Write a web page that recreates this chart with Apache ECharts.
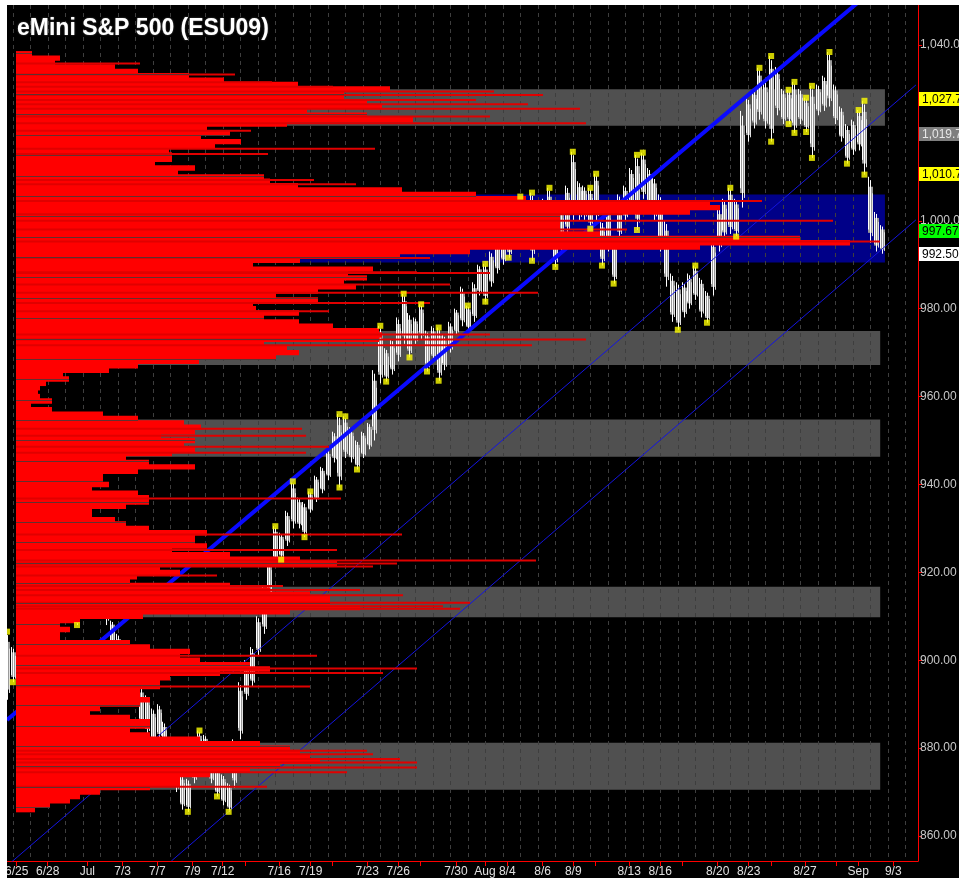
<!DOCTYPE html>
<html lang="en">
<head>
<meta charset="UTF-8">
<title>eMini S&amp;P 500 (ESU09)</title>
<script src="https://cdn.jsdelivr.net/npm/echarts@6/dist/echarts.min.js"></script>
<style>
    html, body { margin: 0; padding: 0; background: #ffffff; }
    #main { position: absolute; left: 7px; top: 5px; width: 952px; height: 873px; }
</style>
</head>
<body>
<div id="main"></div>
<script type="text/javascript">
    // x axis is in "days" from the left edge of the plot, y axis is price
    var xTickPos = [0.554, 2.326, 4.589, 6.611, 8.589, 10.589, 12.326, 13.6, 15.56, 17.354, 18.589, 20.589, 22.36, 23.64,
        25.657, 27.314, 28.589, 30.611, 32.36, 33.64, 35.56, 37.33, 38.611, 40.611, 42.383, 43.657, 45.6, 47.389, 48.646, 50.646];
    var xTickLabels = ['6/25', '6/28', 'Jul', '7/3', '7/7', '7/9', '7/12', '', '7/16', '7/19', '', '7/23', '7/26', '',
        '7/30', 'Aug', '8/4', '8/6', '8/9', '', '8/13', '8/16', '', '8/20', '8/23', '', '8/27', '', 'Sep', '9/3'];
    var yTicks = [860, 880, 900, 920, 940, 960, 980, 1000, 1020, 1040];

    // price bars, one every 1/3 day
    var barStep = 1 / 3;
    var barLow = [891, 895, 898, 908, 912, 914, 910, 912, 909, 913, 916, 912, 908, 910, 914, 916, 914, 908, 903, 898,
        894, 893, 890, 885, 883, 881, 882, 878, 873, 870, 866, 865.5, 872, 876, 877, 872, 869, 867, 865.5, 871,
        882, 891, 894, 901, 906, 913, 922, 922.9, 926, 930, 930, 928, 933.6, 936, 938, 941, 945, 939.3, 946, 945,
        943.4, 946, 948, 950, 963, 963.4, 965, 968, 972, 968.9, 972, 973, 965.7, 968, 963.6, 966, 970, 974, 976, 975,
        977, 983, 981.6, 985, 988, 990, 991.6, 995, 996, 995, 990.9, 994, 996, 994, 989.5, 993, 997, 1000, 1000, 1000.2,
        998.2, 1000, 989.8, 993, 985.7, 996, 1000, 1003, 997.9, 1005, 1003, 1000, 993, 985, 977, 975.2, 978, 980, 982, 978,
        976.8, 983, 993, 996, 997, 996.4, 1003, 1018, 1021, 1023, 1021, 1018, 1024, 1022, 1022, 1020, 1022, 1020.2, 1014.3, 1024,
        1025, 1026, 1022, 1018, 1013, 1015, 1016, 1010.5, 995, 993, 992.5];
    var barHigh = [906.5, 903, 910, 918, 920, 921, 918, 920, 917, 922, 923, 920, 916, 918, 922, 923, 921, 918, 909, 906,
        901, 899, 896, 894, 892, 889, 890, 886, 882, 878, 874, 873, 880, 884, 883, 879, 876, 874, 872, 882,
        895, 900, 903, 910, 917, 923, 930.5, 929, 934, 940.7, 937, 936, 938.4, 942, 944, 948, 952, 956, 955.5, 953,
        950, 952, 954, 966, 976.1, 971, 973, 978, 983.4, 979, 978, 981, 975, 976, 975.7, 974, 977, 980, 985, 980.7,
        986, 990, 990.2, 993, 996, 998, 1000, 1003, 1005.5, 1004, 1006.4, 1003, 1005, 1007.5, 1000, 1003, 1008, 1015.7, 1009, 1008,
        1007.5, 1010.7, 1000, 1003, 996, 1006, 1008, 1012, 1015, 1015.5, 1012, 1010, 1006, 1000, 988, 986, 986, 988, 989.8, 987,
        984, 996, 1003, 1005, 1007.5, 1005, 1025, 1028, 1030, 1034.8, 1032, 1037.5, 1035, 1030, 1029.8, 1031.6, 1030, 1028, 1030.7, 1031,
        1033, 1038.4, 1031, 1026, 1022, 1023, 1025.2, 1027.3, 1010, 1002, 999];
    var pivotHighs = [0, 33, 46, 49, 52, 57, 58, 64, 68, 71, 74, 79, 82, 88, 90, 93, 97, 100, 101, 108, 109, 118, 124,
        129, 131, 134, 135, 137, 138, 141, 146, 147];
    var pivotLows = [1, 12, 31, 36, 38, 47, 51, 57, 60, 65, 69, 72, 74, 82, 86, 90, 94, 100, 102, 104, 108, 115, 120,
        125, 131, 134, 135, 137, 138, 144, 147];

    // volume profile, one level per point from profileTop downwards (length in profile units)
    var profileTop = 1038;
    var profile = [16, 44, 39, 99, 122, 173, 208, 282, 374, 328,          // 1038-1029
        328, 351, 366, 291, 351, 397, 271, 191, 214, 185,                 // 1028-1019
        225, 199, 153, 156, 156, 139, 179, 162, 248, 254,                 // 1018-1009
        282, 386, 460, 510, 694, 704, 674, 544, 544, 544,                 // 1008-999
        544, 584, 784, 834, 684, 454, 384, 284, 237, 357,                 // 998-989
        332, 351, 328, 340, 302, 260, 302, 237, 240, 283,                 // 988-979
        248, 283, 317, 363, 366, 363, 248, 271, 283, 260,                 // 978-969
        183, 122, 93, 47, 53, 30, 24, 22, 24, 36,                         // 968-959
        15, 36, 87, 122, 168, 185, 179, 145, 179, 168,                    // 958-949
        179, 156, 110, 133, 179, 122, 87, 87, 93, 76,                     // 948-939
        122, 133, 133, 110, 76, 76, 99, 110, 133, 191,                    // 938-929
        179, 179, 191, 156, 214, 284, 321, 144, 164, 121,                 // 928-919
        114, 214, 254, 294, 314, 314, 344, 274, 127, 64,                  // 918-909
        44, 54, 44, 44, 114, 134, 174, 164, 184, 234,                     // 908-899
        254, 204, 154, 144, 144, 124, 124, 134, 124, 84,                  // 898-889
        74, 114, 134, 134, 114, 134, 184, 244, 274, 284,                  // 888-879
        294, 304, 264, 234, 194, 164, 164, 134, 84, 64,                   // 878-869
        54, 34, 19];                                                      // 868-866
    var tailPrice = [1035.8, 1033.3, 1031.5, 1030.5, 1029.4, 1028.6, 1027.5, 1026.5, 1025.5, 1023.7, 1022.2, 1020.5,
        1016.4, 1015.2, 1009.3, 1008.3, 1004.5, 1001.5, 1000, 998, 995.3, 991.5, 988.3, 988.1, 985.5, 983.6, 981.3,
        979.4, 974.1, 973, 971.7, 952.7, 951.1, 948.6, 947.2, 936.8, 928.6, 925.1, 922.7, 922, 921.3, 919.3, 916.9,
        916, 914.8, 913.1, 912.3, 911.7, 901, 898.1, 897.1, 894, 879.4, 878.6, 877.5, 876.7, 875.6, 874.5, 871.2];
    var tailLen = [124, 219, 256, 317, 478, 527, 460, 512, 564, 474, 570, 235,
        359, 252, 298, 340, 746, 607, 817, 611, 864, 414, 401, 474, 434, 522, 414,
        313, 474, 570, 516, 286, 290, 313, 290, 325, 386, 321, 520, 381, 357, 201, 267,
        344, 387, 454, 427, 444, 301, 401, 367, 294, 351, 357, 384, 401, 401, 331, 251];
    var profileGridTop = 1038.1;   // dark separators across the profile
    var profileGridStep = 4.636;

    // zones: [low, high, left start (days), right end (days)]
    var grayZones = [[1021.6, 1029.9, 0.514, 50.17], [967.2, 974.9, 0.514, 49.9], [946.3, 954.8, 0.514, 49.9],
        [909.8, 916.7, 0.514, 49.9], [870.5, 881.2, 0.514, 49.9]];
    var blueZone = [990.5, 1006.0, 0.514, 50.17];

    // trend lines: [[x0, y0], [x1, y1]]
    var channelMain = [[0, 886.4], [52, 1061]];
    var channelLow1 = [[0, 853.2], [51.94, 1030.9]];
    var channelLow2 = [[9.39, 854.3], [51.94, 1000.2]];

    // highlighted price labels on the axis
    var markPrices = [1027.75, 1019.75, 1010.75, 997.67, 992.50];
    var markColors = ['#ffff00', '#7f7f7f', '#ffff00', '#00ff00', '#ffffff'];
    var markTextColors = ['#000000', '#e8e8e8', '#000000', '#000000', '#000000'];

    var yMin = 854.31, yMax = 1049.1, xMax = 52.06;

    function fmt(v) {
        var parts = v.toFixed(2).split('.');
        parts[0] = parts[0].replace(/\B(?=(\d{3})+(?!\d))/g, ',');
        return parts.join('.');
    }

    var dayLines = [];
    for (var d = 0; d < 52; d++) dayLines.push(0.326 + d);

    var barData = [];
    for (var i = 0; i < barLow.length; i++) barData.push([i * barStep, barLow[i], barHigh[i]]);

    var dots = [];
    pivotHighs.forEach(function (k) { dots.push([k * barStep, barHigh[k]]); });
    pivotLows.forEach(function (k) { dots.push([k * barStep, barLow[k]]); });

    var profileData = [];
    for (var j = 0; j < profile.length; j++) profileData.push([profile[j], profileTop - j]);
    var tailData = [];
    for (var t = 0; t < tailPrice.length; t++) tailData.push([tailLen[t], tailPrice[t]]);
    var gapData = [];
    for (var g = profileGridTop; g > 865; g -= profileGridStep) {
        var idx = Math.round(profileTop - g);
        if (idx >= 0 && idx < profile.length) gapData.push([profile[idx], g]);
    }

    var zoneData = grayZones.map(function (z) { return [z[0], z[1], z[2], z[3], 0]; });
    zoneData.unshift([blueZone[0], blueZone[1], blueZone[2], blueZone[3], 1]);

    // price tags on the axis
    var tagData = markPrices.map(function (p, n) { return [xMax, p, n]; });

    var myChart = echarts.init(document.getElementById('main'));
    myChart.setOption({
        backgroundColor: '#000000',
        animation: false,
        graphic: [{
            type: 'text', left: 10, top: 12, z: 100,
            style: {
                text: 'eMini S&P 500 (ESU09)', fill: '#ffffff',
                font: 'bold 23px "Liberation Sans", Arial, sans-serif',
                textShadowColor: '#555', textShadowBlur: 2
            }
        }],
        grid: {left: 0, right: 41, top: 0, bottom: 17, containLabel: false, outerBoundsMode: 'none'},
        xAxis: [{
            type: 'value', min: 0, max: xMax,
            axisLine: {onZero: false, lineStyle: {color: '#ff0000', width: 1}},
            axisTick: {show: true, length: 5, lineStyle: {color: '#ff0000'}, customValues: xTickPos},
            axisLabel: {
                customValues: xTickPos.filter(function (v, n) { return xTickLabels[n] !== ''; }),
                formatter: function (v) {
                    var best = 0;
                    for (var n = 0; n < xTickPos.length; n++) {
                        if (Math.abs(xTickPos[n] - v) < Math.abs(xTickPos[best] - v)) best = n;
                    }
                    return xTickLabels[best];
                },
                color: '#e0e0e0', fontSize: 12, fontFamily: '"Liberation Sans", Arial, sans-serif', margin: 5,
                hideOverlap: false
            },
            splitLine: {show: false}
        }, {
            type: 'value', min: -9, max: 902, show: false
        }],
        yAxis: {
            type: 'value', position: 'right', min: yMin, max: yMax,
            axisLine: {show: true, onZero: false, lineStyle: {color: '#ff0000', width: 1}},
            axisTick: {show: true, length: 4, lineStyle: {color: '#ff0000'}, customValues: yTicks},
            axisLabel: {
                customValues: yTicks, formatter: function (v) { return fmt(v); },
                color: '#c8c8c8', fontSize: 12, fontFamily: '"Liberation Sans", Arial, sans-serif', margin: 2
            },
            splitLine: {show: false}
        },
        series: [
            {
                // gray and blue zones
                type: 'custom', z: 1, silent: true, data: zoneData,
                renderItem: function (params, api) {
                    var a = api.coord([api.value(2), api.value(1)]);
                    var b = api.coord([api.value(3), api.value(0)]);
                    return {
                        type: 'rect',
                        shape: {x: a[0], y: a[1], width: b[0] - a[0], height: b[1] - a[1]},
                        style: {fill: api.value(4) === 1 ? '#000088' : '#505050'}
                    };
                }
            },
            {
                // day separators
                type: 'custom', z: 2, silent: true, data: dayLines.map(function (v) { return [v]; }),
                renderItem: function (params, api) {
                    var a = api.coord([api.value(0), yMax]);
                    var b = api.coord([api.value(0), yMin]);
                    return {
                        type: 'line',
                        shape: {x1: Math.round(a[0]) + 0.5, y1: a[1], x2: Math.round(a[0]) + 0.5, y2: b[1]},
                        style: {stroke: '#3e3e3e', lineWidth: 1, lineDash: [4, 4]}
                    };
                }
            },
            {
                // price bars
                type: 'custom', z: 3, silent: true, data: barData,
                renderItem: function (params, api) {
                    var lo = api.coord([api.value(0), api.value(1)]);
                    var hi = api.coord([api.value(0), api.value(2)]);
                    var x = Math.round(lo[0]);
                    var h = lo[1] - hi[1];
                    return {
                        type: 'group',
                        children: [{
                            type: 'rect',
                            shape: {x: x - 2, y: hi[1] + h * 0.15, width: 5, height: h * 0.7},
                            style: {fill: '#9a9a9a'}
                        }, {
                            type: 'line',
                            shape: {x1: x - 1.5, y1: hi[1], x2: x - 1.5, y2: lo[1] - h * 0.2},
                            style: {stroke: '#ffffff', lineWidth: 1}
                        }, {
                            type: 'line',
                            shape: {x1: x + 0.5, y1: hi[1] + h * 0.05, x2: x + 0.5, y2: lo[1]},
                            style: {stroke: '#ffffff', lineWidth: 1}
                        }, {
                            type: 'line',
                            shape: {x1: x + 2.5, y1: hi[1] + h * 0.25, x2: x + 2.5, y2: lo[1] - h * 0.1},
                            style: {stroke: '#e0e0e0', lineWidth: 1}
                        }]
                    };
                }
            },
            {
                type: 'line', z: 4, silent: true, data: channelMain, symbol: 'none',
                lineStyle: {color: '#0a0aff', width: 4}
            },
            {
                type: 'line', z: 4, silent: true, data: channelLow1, symbol: 'none',
                lineStyle: {color: '#1414e0', width: 1}
            },
            {
                type: 'line', z: 4, silent: true, data: channelLow2, symbol: 'none',
                lineStyle: {color: '#1414e0', width: 1}
            },
            {
                // volume profile
                type: 'custom', z: 5, silent: true, xAxisIndex: 1, data: profileData,
                renderItem: function (params, api) {
                    var a = api.coord([0, api.value(1) + 0.5]);
                    var b = api.coord([api.value(0), api.value(1) - 0.5]);
                    return {
                        type: 'rect',
                        shape: {x: a[0], y: a[1] - 0.5, width: b[0] - a[0], height: b[1] - a[1] + 1},
                        style: {fill: '#ff0000'}
                    };
                }
            },
            {
                type: 'custom', z: 5, silent: true, xAxisIndex: 1, data: tailData,
                renderItem: function (params, api) {
                    var a = api.coord([0, api.value(1)]);
                    var b = api.coord([api.value(0), api.value(1)]);
                    return {
                        type: 'rect',
                        shape: {x: a[0], y: a[1] - 1, width: b[0] - a[0], height: 2},
                        style: {fill: '#e00000'}
                    };
                }
            },
            {
                type: 'custom', z: 6, silent: true, xAxisIndex: 1, data: gapData,
                renderItem: function (params, api) {
                    var a = api.coord([0, api.value(1)]);
                    var b = api.coord([api.value(0), api.value(1)]);
                    return {
                        type: 'rect',
                        shape: {x: a[0], y: Math.round(a[1]), width: b[0] - a[0], height: 1},
                        style: {fill: 'rgba(60,60,60,0.8)'}
                    };
                }
            },
            {
                // swing points
                type: 'scatter', z: 8, silent: true, data: dots,
                symbol: 'rect', symbolSize: 6,
                itemStyle: {color: '#ffff00'}
            },
            {
                // price tags on the axis
                type: 'custom', z: 20, silent: true, clip: false, data: tagData,
                renderItem: function (params, api) {
                    var c = api.coord([api.value(0), api.value(1)]);
                    var n = api.value(2);
                    return {
                        type: 'group',
                        children: [{
                            type: 'rect',
                            shape: {x: c[0] + 1, y: Math.round(c[1]) - 7, width: 60, height: 14},
                            style: {fill: markColors[n]}
                        }, {
                            type: 'text',
                            x: c[0] + 4, y: Math.round(c[1]) + 1,
                            style: {
                                text: fmt(markPrices[n]), fill: markTextColors[n],
                                font: '12px "Liberation Sans", Arial, sans-serif',
                                verticalAlign: 'middle', align: 'left'
                            }
                        }]
                    };
                }
            }
        ]
    });
</script>
</body>
</html>
